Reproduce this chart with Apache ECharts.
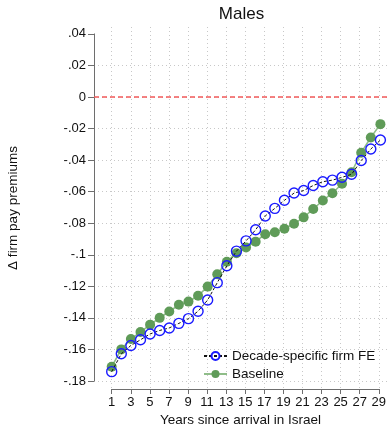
<!DOCTYPE html>
<html>
<head>
<meta charset="utf-8">
<script src="https://cdn.jsdelivr.net/npm/echarts@6/dist/echarts.min.js"></script>
<style>
  html, body { margin: 0; padding: 0; background: #fff; }
  #chart { width: 389px; height: 427px; }
</style>
</head>
<body>
<div id="chart"></div>
<script>
// Years since arrival (x) and the two estimated profiles
const years = [1,2,3,4,5,6,7,8,9,10,11,12,13,14,15,16,17,18,19,20,21,22,23,24,25,26,27,28,29];
const decadeFE = [-0.1741,-0.1628,-0.1575,-0.1539,-0.1502,-0.1480,-0.1464,-0.1435,-0.1405,-0.1358,
                  -0.1287,-0.1177,-0.1070,-0.0977,-0.0912,-0.0842,-0.0754,-0.0706,-0.0655,-0.0609,
                  -0.0593,-0.0561,-0.0537,-0.0527,-0.0509,-0.0490,-0.0403,-0.0330,-0.0273];
const baseline = [-0.1710,-0.1600,-0.1534,-0.1490,-0.1443,-0.1400,-0.1360,-0.1317,-0.1297,-0.1260,
                  -0.1202,-0.1124,-0.1044,-0.0990,-0.0954,-0.0917,-0.0870,-0.0857,-0.0835,-0.0804,
                  -0.0763,-0.0710,-0.0656,-0.0610,-0.0550,-0.0477,-0.0353,-0.0257,-0.0172];
const xTicks = { min: 1, max: 29, step: 2 };
const yTicks = { min: -0.18, max: 0.04, step: 0.02 };
const seriesNames = ['Decade-specific firm FE', 'Baseline'];

const FONT = '"Liberation Sans", Arial, Helvetica, sans-serif';
const TXT = '#111';
const AX = '#6e6e6e';
const GRIDC = '#c8c8c8';

// plot region extends a little beyond the labelled ranges
const plotX = { min: -0.8445, max: 29.896 };
const plotY = { min: -0.18447, max: 0.04437 };

function stataFmt(v) {
  if (Math.abs(v) < 1e-9) return '0';
  const s = (+v.toFixed(2)).toString();
  return s.replace(/^(-?)0\./, '$1.');
}

const chart = echarts.init(document.getElementById('chart'), null, { renderer: 'canvas' });

chart.setOption({
  animation: false,
  backgroundColor: '#fff',
  textStyle: { fontFamily: FONT },
  grid: [
    { left: 94, right: 0, top: 27, bottom: 39 },      // data
    { left: 94, right: 0, top: 33.9, bottom: 46.05 }, // y axis + horizontal grid
    { left: 111.7, right: 8.6, top: 27, bottom: 38 }  // x axis + vertical grid
  ],
  xAxis: [
    { gridIndex: 0, type: 'value', min: plotX.min, max: plotX.max, show: false },
    { gridIndex: 1, type: 'value', min: 0, max: 1, show: false },
    {
      gridIndex: 2, type: 'value', min: xTicks.min, max: xTicks.max, interval: xTicks.step,
      axisLine: { show: true, lineStyle: { color: AX, width: 1 } },
      axisTick: { show: true, length: 5, lineStyle: { color: AX } },
      axisLabel: { color: TXT, fontSize: 13, margin: 7, fontFamily: FONT },
      splitLine: { show: true, lineStyle: { color: GRIDC, type: [1, 3], width: 1 } }
    }
  ],
  yAxis: [
    { gridIndex: 0, type: 'value', min: plotY.min, max: plotY.max, show: false },
    {
      gridIndex: 1, type: 'value', min: yTicks.min, max: yTicks.max, interval: yTicks.step,
      axisLine: { show: true, lineStyle: { color: AX, width: 1 } },
      axisTick: { show: true, length: 6, lineStyle: { color: AX } },
      axisLabel: { color: TXT, fontSize: 13, margin: 8, fontFamily: FONT, formatter: stataFmt },
      splitLine: { show: true, showMaxLine: false, lineStyle: { color: GRIDC, type: [1, 3], width: 1 } }
    },
    { gridIndex: 2, type: 'value', min: 0, max: 1, show: false }
  ],
  legend: {
    orient: 'vertical',
    left: 198,
    top: 344,
    itemWidth: 23,
    itemHeight: 10,
    itemGap: 4,
    data: seriesNames,
    textStyle: { color: TXT, fontSize: 13.5, fontFamily: FONT }
  },
  graphic: [
    { type: 'text', x: 241.5, y: 14, style: { text: 'Males', font: '17px ' + FONT, fill: TXT, textAlign: 'center', textVerticalAlign: 'middle' } },
    { type: 'text', x: 240.5, y: 420.5, style: { text: 'Years since arrival in Israel', font: '13.5px ' + FONT, fill: TXT, textAlign: 'center', textVerticalAlign: 'middle' } },
    { type: 'text', x: 13, y: 208, rotation: Math.PI / 2, style: { text: 'Δ firm pay premiums', font: '13.5px ' + FONT, fill: TXT, textAlign: 'center', textVerticalAlign: 'middle' } }
  ],
  series: [
    {
      name: seriesNames[1],
      type: 'line',
      xAxisIndex: 0, yAxisIndex: 0,
      data: years.map((y, i) => [y, baseline[i]]),
      symbol: 'circle',
      symbolSize: 10,
      itemStyle: { color: '#5f9b58' },
      lineStyle: { color: '#8fbd89', width: 1.6 },
      z: 3,
      markLine: {
        silent: true,
        symbol: 'none',
        label: { show: false },
        lineStyle: { color: '#f25a5a', type: [5, 3], width: 1.5 },
        data: [{ yAxis: 0 }],
        z: 2
      }
    },
    {
      name: seriesNames[0],
      type: 'line',
      xAxisIndex: 0, yAxisIndex: 0,
      data: years.map((y, i) => [y, decadeFE[i]]),
      symbol: 'circle',
      symbolSize: 10,
      itemStyle: { color: 'rgba(255,255,255,0)', borderColor: '#1a1aff', borderWidth: 1.4 },
      lineStyle: { color: '#111', width: 1, type: [3, 2] },
      z: 4
    }
  ]
});
</script>
</body>
</html>
